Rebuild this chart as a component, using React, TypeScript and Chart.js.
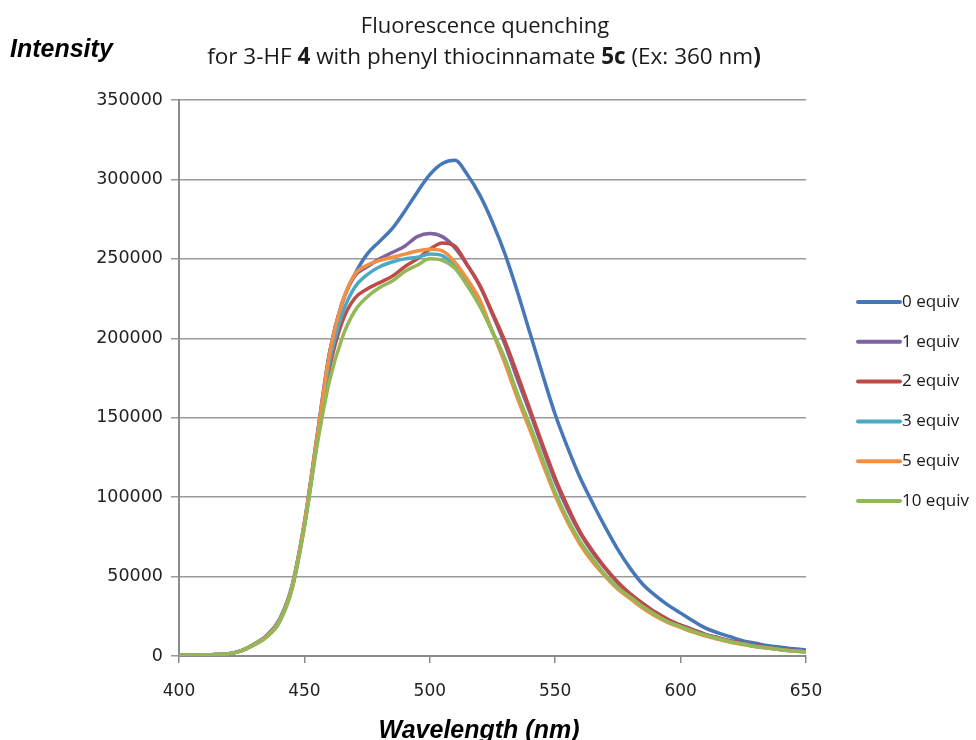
import React, { useEffect, useRef } from "react";
import { Chart, registerables } from "chart.js";

Chart.register(...registerables);

const wavelengths = [
  400, 405, 410, 415, 420, 425, 430, 435, 440, 445, 450, 455, 460, 465, 470, 475, 480, 485, 490, 495,
  500, 505, 510, 515, 520, 525, 530, 535, 540, 545, 550, 555, 560, 565, 570, 575, 580, 585, 590, 595,
  600, 605, 610, 615, 620, 625, 630, 635, 640, 645, 650,
];

const equiv0 = [
  500, 600, 700, 900, 1500, 3500, 7500, 13000, 23000, 44000, 84000, 138000, 191000, 222000, 240000, 253000, 261000, 269000, 280000, 292000,
  303000, 310000, 312000, 303000, 290000, 273000, 253000, 229000, 203000, 177000, 152000, 131000, 112000, 96000, 81000, 67000, 55000, 45000, 38000, 32000,
  27000, 22000, 17500, 14500, 12000, 9500, 8000, 6500, 5500, 4500, 3800,
];
const equiv1 = [
  400, 500, 600, 900, 1500, 3400, 7200, 12500, 22000, 43000, 83000, 137000, 190000, 222000, 239000, 245000, 250000, 254000, 258000, 264000,
  266000, 264000, 257000, 246000, 233000, 215000, 196000, 174000, 153000, 131000, 110000, 92000, 77000, 65000, 55000, 46000, 39000, 33000, 27500, 23000,
  19500, 16500, 13500, 11500, 9500, 8000, 6500, 5300, 4300, 3500, 2800,
];
const equiv2 = [
  400, 500, 600, 900, 1500, 3400, 7200, 12500, 22000, 42000, 82000, 134000, 181000, 210000, 225000, 231000, 235000, 239000, 245000, 250000,
  256000, 260000, 258000, 246000, 233000, 216000, 198000, 177000, 155000, 133000, 112000, 94000, 78000, 66000, 55500, 46500, 39000, 33000, 27500, 23000,
  19500, 16500, 13500, 11500, 9500, 8000, 6500, 5300, 4300, 3500, 2800,
];
const equiv3 = [
  400, 500, 600, 900, 1500, 3400, 7200, 12500, 22000, 43000, 83000, 135000, 185000, 215000, 232000, 240000, 245000, 248000, 250000, 251000,
  253000, 252000, 245000, 234000, 221000, 204000, 185000, 163000, 143000, 122000, 102000, 85000, 71000, 60000, 50500, 42500, 36500, 30500, 25500, 21500,
  18500, 15500, 13000, 11000, 9000, 7500, 6000, 5000, 4000, 3200, 2600,
];
const equiv5 = [
  400, 500, 600, 900, 1500, 3400, 7200, 12500, 22000, 43000, 84000, 137000, 190000, 222000, 240000, 246000, 249000, 251000, 253000, 255000,
  256000, 255000, 248000, 237000, 224000, 204000, 184000, 162000, 142000, 121000, 101000, 84000, 70000, 59000, 50000, 42000, 36000, 30000, 25000, 21000,
  18000, 15000, 12500, 10500, 8700, 7200, 5800, 4800, 3900, 3100, 2500,
];
const equiv10 = [
  400, 500, 600, 900, 1500, 3400, 7000, 12000, 21000, 42000, 81000, 132000, 173000, 200000, 217000, 226000, 232000, 236000, 242000, 246000,
  250000, 249000, 244000, 233000, 220000, 204000, 187000, 165000, 145000, 124000, 103000, 86000, 72000, 61000, 51000, 43000, 37000, 31000, 26000, 21500,
  18500, 15500, 13000, 11000, 9000, 7500, 6000, 5000, 4000, 3200, 2600,
];

const seriesLabels = ["0 equiv", "1 equiv", "2 equiv", "3 equiv", "5 equiv", "10 equiv"];
const seriesColors = ["#4677B8", "#7E62A1", "#BE4B48", "#4AA9C3", "#F38F42", "#93B857"];
const seriesValues = [equiv0, equiv1, equiv2, equiv3, equiv5, equiv10];

const yMin = 0;
const yMax = 350000;
const yStep = 50000;
const xMin = 400;
const xMax = 650;
const xStep = 50;

const titleLine1 = "Fluorescence quenching";
const titleLine2: [string, boolean][] = [
  ["for 3-HF ", false],
  ["4", true],
  [" with phenyl thiocinnamate ", false],
  ["5c", true],
  [" (Ex: 360 nm", false],
  [")", true],
];
const yAxisTitle = "Intensity";
const xAxisTitle = "Wavelength (nm)";

export default function App() {
  const ref = useRef<HTMLCanvasElement | null>(null);

  useEffect(() => {
    document.body.style.margin = "0";
    const canvas = ref.current;
    if (!canvas) return;

    const overlay = {
      id: "overlay",
      afterDraw(chart: any) {
        const ctx = chart.ctx as CanvasRenderingContext2D;
        ctx.save();
        ctx.fillStyle = "#1a1a1a";
        ctx.textBaseline = "alphabetic";
        ctx.textAlign = "center";
        ctx.font = "22px 'Open Sans'";
        ctx.fillText(titleLine1, 485, 33);
        ctx.textAlign = "left";
        const fontFor = (b: boolean) => (b ? "bold 22.5px 'Open Sans'" : "22.5px 'Open Sans'");
        let total = 0;
        for (const [t, b] of titleLine2) {
          ctx.font = fontFor(b);
          total += ctx.measureText(t).width;
        }
        let x = 484 - total / 2;
        for (const [t, b] of titleLine2) {
          ctx.font = fontFor(b);
          ctx.fillText(t, x, 64);
          x += ctx.measureText(t).width;
        }
        ctx.fillStyle = "#000";
        ctx.font = "italic bold 25px 'Liberation Sans'";
        ctx.textAlign = "left";
        ctx.fillText(yAxisTitle, 10, 57);
        ctx.textAlign = "center";
        ctx.fillText(xAxisTitle, 479, 738);
        ctx.font = "17px 'Open Sans'";
        ctx.textAlign = "left";
        ctx.textBaseline = "middle";
        seriesLabels.forEach((lab, i) => {
          const y = 302 + i * 39.8;
          ctx.strokeStyle = seriesColors[i];
          ctx.lineWidth = 4;
          ctx.lineCap = "round";
          ctx.beginPath();
          ctx.moveTo(858, y);
          ctx.lineTo(900, y);
          ctx.stroke();
          ctx.fillStyle = "#1a1a1a";
          ctx.fillText(lab, 902, y);
        });
        ctx.restore();
      },
    };

    const chart = new Chart(canvas, {
      type: "line",
      data: {
        datasets: seriesValues.map((vals, i) => ({
          label: seriesLabels[i],
          data: wavelengths.map((w, j) => ({ x: w, y: vals[j] })),
          borderColor: seriesColors[i],
          backgroundColor: seriesColors[i],
          borderWidth: 3.5,
          pointRadius: 0,
          fill: false,
          cubicInterpolationMode: "monotone" as const,
          order: seriesValues.length - 1 - i,
        })),
      },
      options: {
        responsive: false,
        animation: false,
        devicePixelRatio: 1,
        layout: { padding: { left: 0, top: 100, right: 170, bottom: 0 } },
        plugins: {
          legend: { display: false },
          title: { display: false },
          tooltip: { enabled: false },
        },
        scales: {
          x: {
            type: "linear",
            min: xMin,
            max: xMax,
            ticks: {
              stepSize: xStep,
              color: "#222",
              font: { family: "'DejaVu Sans'", size: 17 },
              padding: 18,
              maxRotation: 0,
            },
            grid: {
              drawOnChartArea: false,
              drawTicks: true,
              tickLength: 7,
              color: "#8a8a8a",
              lineWidth: 1.5,
            },
            border: { color: "#8a8a8a", width: 2 },
            afterFit: (s: any) => {
              s.height = 84;
            },
          },
          y: {
            min: yMin,
            max: yMax,
            ticks: {
              stepSize: yStep,
              color: "#222",
              font: { family: "'DejaVu Sans'", size: 17.5 },
              padding: 8,
              callback: (v: any) => String(v),
            },
            grid: {
              color: "#9a9a9a",
              lineWidth: 1.5,
              tickLength: 8,
            },
            border: { color: "#8a8a8a", width: 2 },
            afterFit: (s: any) => {
              s.width = 179;
            },
          },
        },
      },
      plugins: [overlay],
    });
    return () => chart.destroy();
  }, []);

  return (
    <div style={{ position: "absolute", left: 0, top: 0, width: 976, height: 740, background: "#fff" }}>
      <canvas ref={ref} width={976} height={740} style={{ display: "block", width: 976, height: 740 }} />
    </div>
  );
}
